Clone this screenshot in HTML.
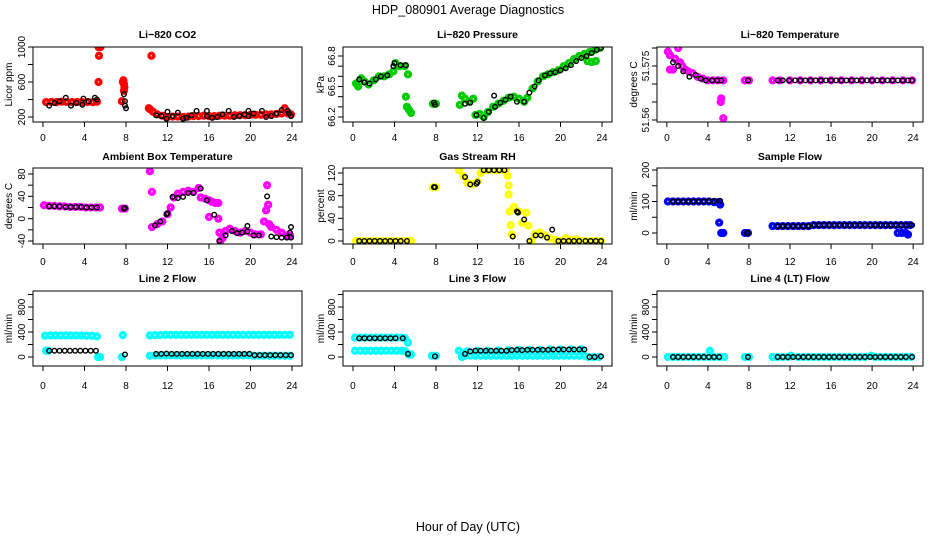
<!DOCTYPE html>
<html><head><meta charset="utf-8"><style>
body{margin:0;background:#fff}
svg text{font-family:"Liberation Sans",sans-serif;fill:#000}
</style></head><body>
<svg id="c" width="936" height="540" xmlns="http://www.w3.org/2000/svg">
<text x="468" y="14" font-size="12.5" text-anchor="middle">HDP_080901  Average Diagnostics</text>
<text x="468" y="531" font-size="12.5" text-anchor="middle">Hour of Day (UTC)</text>
</svg>
<script>
// ---- data ----
const hourTicks=[0,4,8,12,16,20,24];
const co2Color=[[0.3,370],[0.8,372],[1.3,370],[1.8,375],[2.3,372],[2.8,370],[3.3,372],[3.8,370],[4.3,372],[4.8,370],[5.2,375],[5.35,1000],[5.45,1000],[5.55,1000],[5.4,900],[5.35,600],[7.6,380],[7.7,600],[7.75,620],[7.8,580],[7.85,540],[7.8,500],[10.2,300],[10.3,290],[10.45,900],[10.6,260],[11,230],[11.5,215],[12,200],[12.5,205],[13,205],[13.5,200],[14,205],[14.5,210],[15,210],[15.5,215],[16,210],[16.5,210],[17,215],[17.5,215],[18,215],[18.5,220],[19,220],[19.5,220],[20,225],[20.5,225],[21,225],[21.5,230],[22,230],[22.5,235],[23,240],[23.3,300],[23.6,240],[23.9,230]];
const co2Black=[[0.6,330],[1.1,360],[1.6,380],[2.2,420],[2.7,330],[3.2,360],[3.8,340],[3.9,410],[4.4,380],[5.0,420],[5.2,400],[7.8,460],[7.9,380],[7.9,330],[8.0,300],[10.9,220],[11.4,210],[11.9,180],[12.0,260],[12.5,210],[13.0,250],[13.5,180],[13.8,190],[14.3,220],[14.8,270],[15.8,270],[15.8,210],[16.3,190],[16.8,200],[17.3,230],[17.9,270],[18.4,200],[18.9,210],[19.4,230],[19.8,270],[19.8,210],[20.3,240],[21.1,270],[21.5,200],[22.0,210],[22.5,240],[23.0,280],[23.6,270],[23.7,240],[23.9,210]];
const presColor=[[0.3,66.53],[0.5,66.5],[0.8,66.58],[1.1,66.55],[1.5,66.52],[2.0,66.56],[2.5,66.6],[3.0,66.6],[3.5,66.62],[3.9,66.65],[4.1,66.73],[4.5,66.7],[5.0,66.7],[5.3,66.62],[5.1,66.4],[5.2,66.3],[5.4,66.27],[5.6,66.24],[7.7,66.33],[8.0,66.33],[10.3,66.32],[10.5,66.41],[10.8,66.38],[11.2,66.35],[11.6,66.38],[11.8,66.22],[12.2,66.23],[12.6,66.2],[13.0,66.25],[13.5,66.3],[14.0,66.33],[14.5,66.36],[15.0,66.39],[15.5,66.4],[16.0,66.38],[16.5,66.35],[16.8,66.39],[17.3,66.48],[17.8,66.55],[18.3,66.6],[18.8,66.62],[19.3,66.64],[19.8,66.66],[20.3,66.7],[20.8,66.73],[21.3,66.77],[21.8,66.8],[22.3,66.82],[22.8,66.84],[23.3,66.86],[23.8,66.88],[22.6,66.75],[23.0,66.74],[23.4,66.75]];
const presBlack=[[0.6,66.57],[1.1,66.54],[1.6,66.53],[2.2,66.57],[2.7,66.6],[3.3,66.61],[3.9,66.7],[4.0,66.73],[4.6,66.71],[5.1,66.71],[7.8,66.34],[7.9,66.32],[10.8,66.33],[11.3,66.34],[11.9,66.22],[12.6,66.19],[13.1,66.25],[13.6,66.41],[13.7,66.3],[14.2,66.34],[14.7,66.37],[15.2,66.4],[15.8,66.35],[16.5,66.35],[17.0,66.44],[17.5,66.5],[17.9,66.56],[18.5,66.61],[19.0,66.63],[19.5,66.64],[20.0,66.66],[20.5,66.68],[21.0,66.71],[21.5,66.75],[22.0,66.78],[22.5,66.8],[23.0,66.83],[23.5,66.86],[23.9,66.88]];
const tempColor=[[0.1,51.579],[0.3,51.578],[0.3,51.574],[0.6,51.574],[0.8,51.577],[1.1,51.580],[1.3,51.576],[1.5,51.575],[1.8,51.574],[2.1,51.5735],[2.5,51.573],[3.0,51.572],[3.5,51.5715],[4.0,51.571],[4.5,51.571],[5.0,51.571],[5.5,51.571],[5.3,51.566],[5.25,51.565],[5.5,51.5605],[7.6,51.571],[8.0,51.571],[10.3,51.571],[11,51.571],[12,51.571],[13,51.571],[14,51.571],[15,51.571],[16,51.571],[17,51.571],[18,51.571],[19,51.571],[20,51.571],[21,51.571],[22,51.571],[23,51.571],[23.9,51.571]];
const tempBlack=[[0.6,51.576],[1.1,51.575],[1.6,51.5735],[2.2,51.572],[2.8,51.5725],[3.3,51.5715],[3.8,51.571],[4.4,51.571],[4.9,51.571],[5.3,51.571],[7.9,51.571],[10.8,51.571],[11.3,51.571],[11.9,51.571],[12.5,51.571],[13,51.571],[13.5,51.571],[14,51.571],[14.5,51.571],[15,51.571],[15.5,51.571],[16,51.571],[16.5,51.571],[17,51.571],[17.5,51.571],[18,51.571],[18.5,51.571],[19,51.571],[19.5,51.571],[20,51.571],[20.5,51.571],[21,51.571],[21.5,51.571],[22,51.571],[22.5,51.571],[23,51.571],[23.5,51.571],[23.9,51.571]];
const ambColor=[[0.1,24],[0.6,23],[1.1,23],[1.6,22],[2.1,22],[2.6,21],[3.1,21],[3.6,21],[4.1,20],[4.6,20],[5.1,20],[5.5,20],[7.6,18],[7.9,18],[10.3,85],[10.5,48],[10.5,-15],[11.0,-10],[11.5,-5],[12.0,8],[12.3,20],[12.6,38],[13.0,45],[13.5,48],[14.0,50],[14.5,48],[15.0,55],[15.2,38],[15.6,36],[16.0,33],[16.3,30],[16.6,28],[16.9,28],[16.0,3],[16.9,0],[17.0,-25],[17.1,-40],[17.3,-35],[17.6,-22],[18.0,-18],[18.5,-22],[19.0,-25],[19.5,-22],[20.0,-25],[20.5,-28],[21.0,-28],[21.3,-5],[21.5,15],[21.6,60],[21.7,25],[21.8,-10],[22.0,-15],[22.5,-20],[23.0,-25],[23.5,-30],[23.8,-30]];
const ambBlack=[[0.6,22],[1.1,22],[1.6,22],[2.2,21],[2.7,21],[3.2,21],[3.7,21],[4.2,20],[4.7,20],[5.2,20],[7.8,18],[7.9,19],[10.8,-12],[11.3,-5],[11.9,8],[12.0,10],[12.5,39],[13.0,37],[13.5,39],[14.0,46],[14.5,46],[15.2,54],[15.8,33],[16.5,7],[17.0,-40],[17.6,-30],[18.2,-22],[18.7,-26],[19.2,-25],[19.7,-23],[19.7,-13],[20.3,-30],[20.8,-30],[21.6,40],[22.0,-32],[22.5,-33],[23.0,-34],[23.5,-34],[23.9,-34],[23.9,-15],[23.8,-25]];
const rhColor=[[0.3,0],[0.8,0],[1.3,0],[1.8,0],[2.3,0],[2.8,0],[3.3,0],[3.8,0],[4.3,0],[4.8,0],[5.3,0],[5.6,0],[7.7,95],[8.0,95],[10.2,125],[10.6,115],[11.0,103],[11.5,100],[12.0,105],[12.3,120],[12.5,125],[13.0,125],[13.5,125],[14.0,125],[14.5,125],[14.7,125],[14.9,115],[15.0,98],[15.0,82],[15.1,52],[15.2,28],[15.3,12],[15.5,60],[16.0,52],[16.3,32],[16.7,50],[16.9,27],[17.2,0],[17.5,12],[18.0,15],[18.5,10],[19.0,5],[19.5,2],[20.0,0],[20.5,5],[21.0,2],[21.5,3],[22.0,0],[22.5,0],[23.0,0],[23.5,0],[23.9,0]];
const rhBlack=[[0.6,0],[1.1,0],[1.6,0],[2.1,0],[2.6,0],[3.1,0],[3.6,0],[4.1,0],[4.6,0],[5.2,0],[7.8,95],[7.9,95],[10.8,113],[11.3,100],[11.9,101],[12.0,104],[12.6,125],[13.1,125],[13.6,125],[14.1,125],[14.6,125],[15.4,8],[15.8,52],[15.9,50],[16.5,38],[17.0,0],[17.6,10],[18.1,10],[18.7,6],[19.2,20],[19.8,0],[20.3,0],[20.8,0],[21.3,0],[21.8,0],[22.4,0],[22.9,0],[23.4,0],[23.9,0]];
const flowColor=[[0.1,100],[0.6,100],[1.1,100],[1.6,100],[2.1,100],[2.6,100],[3.1,100],[3.6,100],[4.1,100],[4.6,98],[5.0,98],[5.2,90],[5.1,33],[5.3,0],[5.5,0],[7.6,0],[7.9,0],[10.3,22],[10.8,22],[11.3,22],[11.8,22],[12.3,22],[12.8,22],[13.3,22],[13.8,22],[14.3,25],[14.8,25],[15.3,25],[15.8,25],[16.3,25],[16.8,25],[17.3,25],[17.8,25],[18.3,25],[18.8,25],[19.3,25],[19.8,25],[20.3,25],[20.8,25],[21.3,25],[21.8,25],[22.3,25],[22.8,25],[23.3,25],[23.7,25],[22.5,0],[22.9,0],[23.3,0],[23.5,-5]];
const flowBlack=[[0.6,100],[1.1,100],[1.6,100],[2.1,100],[2.6,100],[3.1,100],[3.6,100],[4.1,102],[4.6,102],[5.2,102],[7.8,0],[7.9,0],[10.8,22],[11.3,22],[11.8,22],[12.3,22],[12.8,22],[13.3,22],[13.8,22],[14.4,25],[14.9,25],[15.4,25],[15.9,25],[16.4,25],[16.9,25],[17.4,25],[17.9,25],[18.4,25],[18.9,25],[19.4,25],[19.9,25],[20.4,25],[20.9,25],[21.4,25],[21.9,25],[22.4,25],[22.9,25],[23.4,25],[23.9,25]];
const line2Color=[[0.2,340],[0.7,345],[1.2,345],[1.7,345],[2.2,345],[2.7,345],[3.2,345],[3.7,345],[4.2,340],[4.7,340],[5.2,330],[0.3,100],[0.5,100],[5.3,0],[5.5,0],[7.7,350],[7.6,0],[10.3,345],[10.8,350],[11.3,350],[11.8,355],[12.3,355],[12.8,355],[13.3,355],[13.8,355],[14.3,355],[14.8,355],[15.3,355],[15.8,355],[16.3,355],[16.8,355],[17.3,355],[17.8,355],[18.3,355],[18.8,355],[19.3,355],[19.8,355],[20.3,355],[20.8,355],[21.3,355],[21.8,355],[22.3,355],[22.8,355],[23.3,355],[23.8,355],[10.3,20],[10.8,25],[11.3,25],[11.8,25],[12.3,25],[12.8,25],[13.3,25],[13.8,25],[14.3,25],[14.8,25],[15.3,25],[15.8,25],[16.3,25],[16.8,25],[17.3,25],[17.8,25],[18.3,25],[18.8,25],[19.3,25],[19.8,25],[20.3,20],[20.8,20],[21.3,20],[21.8,20],[22.3,20],[22.8,20],[23.3,20],[23.8,20]];
const line2Black=[[0.6,100],[1.1,100],[1.6,100],[2.1,100],[2.6,100],[3.1,100],[3.6,100],[4.1,100],[4.6,100],[5.1,100],[7.9,40],[10.9,50],[11.4,50],[11.9,55],[12.4,50],[12.9,50],[13.4,50],[13.9,50],[14.4,50],[14.9,50],[15.4,50],[15.9,50],[16.4,50],[16.9,50],[17.4,50],[17.9,50],[18.4,50],[18.9,50],[19.4,50],[19.9,50],[20.4,30],[20.9,30],[21.4,30],[21.9,30],[22.4,30],[22.9,30],[23.4,30],[23.9,30]];
const line3Color=[[0.2,310],[0.7,310],[1.2,310],[1.7,310],[2.2,310],[2.7,310],[3.2,310],[3.7,310],[4.2,310],[4.7,310],[5.0,300],[0.2,100],[0.7,100],[1.2,100],[1.7,100],[2.2,100],[2.7,100],[3.2,100],[3.7,100],[4.2,100],[4.7,100],[5.0,95],[5.3,230],[5.4,40],[5.6,40],[7.6,20],[8.0,20],[10.2,100],[10.5,0],[10.8,20],[11.3,20],[11.8,20],[12.3,20],[12.8,20],[13.3,20],[13.8,20],[14.3,20],[14.8,20],[15.3,20],[15.8,20],[16.3,20],[16.8,20],[17.3,20],[17.8,20],[18.3,20],[18.8,20],[19.3,20],[19.8,20],[20.3,20],[20.8,20],[21.3,20],[21.8,20],[22.3,20],[11.0,90],[12.0,100],[13.0,100],[14.0,105],[15.0,110],[16.0,115],[17.0,115],[18.0,115],[19.0,120],[20.0,120],[21.0,120],[22.0,125],[22.7,0],[23.2,0],[23.7,0]];
const line3Black=[[0.6,300],[1.1,300],[1.6,300],[2.1,300],[2.6,300],[3.1,300],[3.6,300],[4.1,300],[4.8,300],[5.3,50],[7.9,10],[10.8,50],[11.3,90],[11.8,100],[12.3,100],[12.8,100],[13.3,100],[13.8,100],[14.3,100],[14.8,100],[15.3,110],[15.8,115],[16.3,110],[16.8,115],[17.3,115],[17.8,115],[18.3,115],[18.8,115],[19.3,120],[19.8,120],[20.3,120],[20.8,120],[21.3,120],[21.8,120],[22.3,120],[22.8,0],[23.3,0],[23.9,10]];
const line4Color=[[0.1,0],[0.6,0],[1.1,0],[1.6,0],[2.1,0],[2.6,0],[3.1,0],[3.6,0],[4.1,0],[4.2,100],[4.6,0],[5.1,0],[5.6,0],[7.6,0],[8.0,0],[10.3,0],[10.8,0],[11.3,0],[11.8,0],[12.1,20],[12.8,0],[13.3,0],[13.8,0],[14.3,0],[14.8,0],[15.3,0],[15.8,0],[16.3,0],[16.8,0],[17.3,0],[17.8,0],[18.3,0],[18.8,0],[19.3,0],[19.9,20],[20.3,0],[20.8,0],[21.3,0],[21.8,0],[22.3,0],[22.8,0],[23.3,0],[23.8,0]];
const line4Black=[[0.6,0],[1.1,0],[1.6,0],[2.1,0],[2.6,0],[3.1,0],[3.6,0],[4.1,0],[4.6,0],[5.1,0],[7.9,0],[10.8,0],[11.3,0],[11.8,0],[12.3,0],[12.8,0],[13.3,0],[13.8,0],[14.3,0],[14.8,0],[15.3,0],[15.8,0],[16.3,0],[16.8,0],[17.3,0],[17.8,0],[18.3,0],[18.8,0],[19.3,0],[19.8,0],[20.3,0],[20.8,0],[21.3,0],[21.8,0],[22.3,0],[22.8,0],[23.3,0],[23.9,0]];
const co2Ticks=[200,400,600,800,1000], co2Labels=[200,600,1000];
const presTicks=[66.2,66.3,66.4,66.5,66.6,66.7,66.8], presLabels=[66.2,66.5,66.8];
const tempTicks=[51.560,51.565,51.570,51.575,51.580], tempLabels=[51.560,51.575];
const ambTicks=[-40,-20,0,20,40,60,80], ambLabels=[-40,0,40,80];
const rhTicks=[0,20,40,60,80,100,120], rhLabels=[0,40,80,120];
const flowTicks=[0,50,100,150,200], flowLabels=[0,100,200];
const lineTicks=[0,200,400,600,800,1000], lineLabels=[0,400,800];

// ---- layout ----
const NS="http://www.w3.org/2000/svg", svg=document.getElementById('c');
function mk(tag,attrs,parent){const e=document.createElementNS(NS,tag);for(const k in attrs)e.setAttribute(k,attrs[k]);(parent||svg).appendChild(e);return e;}
const cols=[{x:33,w:269,yt:8},{x:343,w:269,yt:320},{x:657,w:266,yt:633}];
const rows=[{top:47,bot:122,title:38,lab:141},{top:168,bot:244,title:160,lab:265},{top:291,bot:366,title:282,lab:389}];
const panels=[
 {name:'li820-co2',title:'Li\u2212820 CO2',yl:'Licor ppm',c:0,r:0,col:'#ff0000',d:co2Color,b:co2Black,t:co2Ticks,l:co2Labels,v1:200,p1:117,v2:1000,p2:47},
 {name:'li820-pressure',title:'Li\u2212820 Pressure',yl:'kPa',c:1,r:0,col:'#00cc00',d:presColor,b:presBlack,t:presTicks,l:presLabels,v1:66.2,p1:117,v2:66.8,p2:56},
 {name:'li820-temperature',title:'Li\u2212820 Temperature',yl:'degrees C',c:2,r:0,col:'#ff00ff',d:tempColor,b:tempBlack,t:tempTicks,l:tempLabels,v1:51.560,p1:120,v2:51.575,p2:66},
 {name:'ambient-box-temperature',title:'Ambient Box Temperature',yl:'degrees C',c:0,r:1,col:'#ff00ff',d:ambColor,b:ambBlack,t:ambTicks,l:ambLabels,v1:-40,p1:241,v2:80,p2:174},
 {name:'gas-stream-rh',title:'Gas Stream RH',yl:'percent',c:1,r:1,col:'#ffff00',d:rhColor,b:rhBlack,t:rhTicks,l:rhLabels,v1:0,p1:241,v2:120,p2:173},
 {name:'sample-flow',title:'Sample Flow',yl:'ml/min',c:2,r:1,col:'#0000ff',d:flowColor,b:flowBlack,t:flowTicks,l:flowLabels,v1:0,p1:233,v2:200,p2:170},
 {name:'line-2-flow',title:'Line 2 Flow',yl:'ml/min',c:0,r:2,col:'#00ffff',d:line2Color,b:line2Black,t:lineTicks,l:lineLabels,v1:0,p1:357,v2:800,p2:307},
 {name:'line-3-flow',title:'Line 3 Flow',yl:'ml/min',c:1,r:2,col:'#00ffff',d:line3Color,b:line3Black,t:lineTicks,l:lineLabels,v1:0,p1:357,v2:800,p2:307},
 {name:'line-4-flow',title:'Line 4 (LT) Flow',yl:'ml/min',c:2,r:2,col:'#00ffff',d:line4Color,b:line4Black,t:lineTicks,l:lineLabels,v1:0,p1:357,v2:800,p2:307}
];
panels.forEach(p=>{
 const C=cols[p.c],R=rows[p.r];
 const g=mk('g',{});
 
 
 const xs=h=>C.x+(h+0.96)*C.w/25.92;
 const ys=v=>p.p1+(v-p.v1)*(p.p2-p.p1)/(p.v2-p.v1);
 const clip='cl'+p.name;
 const cp=mk('clipPath',{id:clip},g);mk('rect',{x:C.x,y:R.top,width:C.w,height:R.bot-R.top},cp);
 const ti=mk('text',{x:C.x+C.w/2,y:R.title,'font-size':10.5,'font-weight':'bold','text-anchor':'middle'},g);ti.textContent=p.title;
 
 
 const yl=mk('text',{x:0,y:0,'font-size':10,'text-anchor':'middle',transform:`translate(${C.yt+4},${(R.top+R.bot)/2}) rotate(-90)`},g);yl.textContent=p.yl;
 
 
 const pts=mk('g',{'clip-path':`url(#${clip})`},g);
 
 
 p.d.forEach(([h,v])=>{const c=mk('circle',{cx:xs(h),cy:ys(v),r:2.4,fill:'none',stroke:p.col,'stroke-width':3.4},pts);
  
  });
 const bk=mk('g',{'clip-path':`url(#${clip})`},g);
 
 
 p.b.forEach(([h,v])=>{const c=mk('circle',{cx:xs(h),cy:ys(v),r:2.3,fill:'none',stroke:'#000','stroke-width':1.4},bk);
  
  });
 const fr=mk('rect',{x:C.x,y:R.top,width:C.w,height:R.bot-R.top,fill:'none',stroke:'#000','stroke-width':1},g);
 
 
 hourTicks.forEach(h=>{const x=xs(h);mk('line',{x1:x,x2:x,y1:R.bot,y2:R.bot+5,stroke:'#000'},g);
  const t=mk('text',{x:x,y:R.lab,'font-size':10,'text-anchor':'middle'},g);t.textContent=h;
  
  });
 p.t.forEach(v=>{const y=ys(v);if(y<R.top-1||y>R.bot+1)return;mk('line',{x1:C.x-5,x2:C.x,y1:y,y2:y,stroke:'#000'},g);});
 p.l.forEach(v=>{const y=ys(v);const t=mk('text',{x:0,y:0,'font-size':10,'text-anchor':'middle',transform:`translate(${C.x-8},${y}) rotate(-90)`},g);t.textContent=v;
  
  });
});
</script>
</body></html>
